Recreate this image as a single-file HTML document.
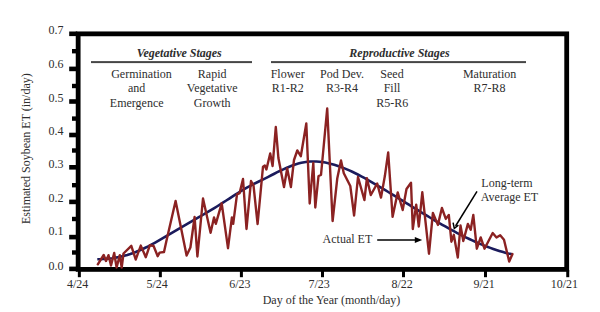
<!DOCTYPE html>
<html><head><meta charset="utf-8"><style>
html,body{margin:0;padding:0;background:#fff;width:600px;height:312px;overflow:hidden}
svg{display:block}
text{font-family:"Liberation Serif",serif;font-size:12px;fill:#2e2e2e}
</style></head><body>
<svg width="600" height="312" viewBox="0 0 600 312">
<rect x="78.15" y="33.85" width="488.55" height="235.55" fill="none" stroke="#000" stroke-width="4.8"/>
<rect x="69.2" y="31.5" width="8" height="4.6"/>
<text x="63.5" y="33.8" text-anchor="end">0.7</text>
<rect x="69.2" y="66.6" width="8" height="4.6"/>
<text x="63.5" y="67.8" text-anchor="end">0.6</text>
<rect x="69.2" y="99.2" width="8" height="4.6"/>
<text x="63.5" y="102.4" text-anchor="end">0.5</text>
<rect x="69.2" y="132.7" width="8" height="4.6"/>
<text x="63.5" y="135.3" text-anchor="end">0.4</text>
<rect x="69.2" y="165.0" width="8" height="4.6"/>
<text x="63.5" y="168.4" text-anchor="end">0.3</text>
<rect x="69.2" y="199.6" width="8" height="4.6"/>
<text x="63.5" y="201.8" text-anchor="end">0.2</text>
<rect x="69.2" y="234.8" width="8" height="4.6"/>
<text x="63.5" y="235.4" text-anchor="end">0.1</text>
<rect x="69.2" y="266.6" width="8" height="4.6"/>
<text x="63.5" y="269.6" text-anchor="end">0.0</text>
<rect x="72" y="49.0" width="5" height="4.4"/>
<rect x="72" y="83.8" width="5" height="4.4"/>
<rect x="72" y="116.4" width="5" height="4.4"/>
<rect x="72" y="148.3" width="5" height="4.4"/>
<rect x="72" y="183.0" width="5" height="4.4"/>
<rect x="72" y="216.8" width="5" height="4.4"/>
<rect x="72" y="250.3" width="5" height="4.4"/>
<rect x="77.85" y="270" width="3" height="7.2"/>
<text x="77.6" y="287.6" text-anchor="middle">4/24</text>
<rect x="158.85" y="270" width="3" height="7.2"/>
<text x="157.2" y="287.6" text-anchor="middle">5/24</text>
<rect x="239.90" y="270" width="3" height="7.2"/>
<text x="239.9" y="287.6" text-anchor="middle">6/23</text>
<rect x="321.00" y="270" width="3" height="7.2"/>
<text x="319.2" y="287.6" text-anchor="middle">7/23</text>
<rect x="402.00" y="270" width="3" height="7.2"/>
<text x="402.1" y="287.6" text-anchor="middle">8/22</text>
<rect x="484.00" y="270" width="3" height="7.2"/>
<text x="484.1" y="287.6" text-anchor="middle">9/21</text>
<rect x="566.25" y="270" width="3" height="7.2"/>
<text x="564.3" y="287.6" text-anchor="middle">10/21</text>
<text x="331.5" y="303.7" text-anchor="middle">Day of the Year (month/day)</text>
<text transform="translate(30,148.6) rotate(-90)" text-anchor="middle">Estimated Soybean ET (in/day)</text>
<text x="179.3" y="56.5" text-anchor="middle" font-weight="bold" font-style="italic">Vegetative Stages</text>
<rect x="91" y="61.1" width="161" height="2" fill="#464646"/>
<text x="399.5" y="56.5" text-anchor="middle" font-weight="bold" font-style="italic">Reproductive Stages</text>
<rect x="271" y="61.1" width="255" height="2" fill="#464646"/>
<text x="141.5" y="78" text-anchor="middle">Germination</text>
<text x="136.7" y="92.3" text-anchor="middle">and</text>
<text x="136.7" y="106.7" text-anchor="middle">Emergence</text>
<text x="212.2" y="78" text-anchor="middle">Rapid</text>
<text x="212.2" y="92.3" text-anchor="middle">Vegetative</text>
<text x="212.2" y="106.7" text-anchor="middle">Growth</text>
<text x="287.7" y="78" text-anchor="middle">Flower</text>
<text x="287.7" y="92.3" text-anchor="middle">R1-R2</text>
<text x="342" y="78" text-anchor="middle">Pod Dev.</text>
<text x="342" y="92.3" text-anchor="middle">R3-R4</text>
<text x="392" y="78" text-anchor="middle">Seed</text>
<text x="392" y="92.3" text-anchor="middle">Fill</text>
<text x="392.2" y="106.7" text-anchor="middle">R5-R6</text>
<text x="489.6" y="78" text-anchor="middle">Maturation</text>
<text x="489.6" y="92.3" text-anchor="middle">R7-R8</text>
<path d="M97.3,259.26 L100.3,259.20 L103.3,259.07 L106.3,258.86 L109.3,258.56 L112.3,258.17 L115.3,257.70 L118.3,257.13 L121.3,256.48 L124.3,255.73 L127.3,254.89 L130.3,253.96 L133.3,252.92 L136.3,251.79 L139.3,250.56 L142.3,249.22 L145.3,247.80 L148.3,246.30 L151.3,244.72 L154.3,243.09 L157.3,241.41 L160.3,239.68 L163.3,237.93 L166.3,236.16 L169.3,234.37 L172.3,232.59 L175.3,230.82 L178.3,229.06 L181.3,227.32 L184.3,225.60 L187.3,223.87 L190.3,222.16 L193.3,220.44 L196.3,218.72 L199.3,216.99 L202.3,215.25 L205.3,213.49 L208.3,211.72 L211.3,209.92 L214.3,208.10 L217.3,206.24 L220.3,204.35 L223.3,202.43 L226.3,200.49 L229.3,198.54 L232.3,196.60 L235.3,194.68 L238.3,192.78 L241.3,190.93 L244.3,189.14 L247.3,187.41 L250.3,185.77 L253.3,184.21 L256.3,182.72 L259.3,181.27 L262.3,179.81 L265.3,178.31 L268.3,176.79 L271.3,175.25 L274.3,173.72 L277.3,172.21 L280.3,170.73 L283.3,169.31 L286.3,167.96 L289.3,166.69 L292.3,165.53 L295.3,164.49 L298.3,163.58 L301.3,162.82 L304.3,162.23 L307.3,161.82 L310.3,161.57 L313.3,161.47 L316.3,161.53 L319.3,161.74 L322.3,162.09 L325.3,162.56 L328.3,163.17 L331.3,163.89 L334.3,164.73 L337.3,165.68 L340.3,166.73 L343.3,167.87 L346.3,169.10 L349.3,170.41 L352.3,171.79 L355.3,173.25 L358.3,174.76 L361.3,176.34 L364.3,177.96 L367.3,179.62 L370.3,181.32 L373.3,183.05 L376.3,184.81 L379.3,186.58 L382.3,188.37 L385.3,190.18 L388.3,191.99 L391.3,193.82 L394.3,195.66 L397.3,197.51 L400.3,199.36 L403.3,201.22 L406.3,203.08 L409.3,204.93 L412.3,206.79 L415.3,208.64 L418.3,210.48 L421.3,212.32 L424.3,214.14 L427.3,215.96 L430.3,217.76 L433.3,219.55 L436.3,221.31 L439.3,223.06 L442.3,224.79 L445.3,226.49 L448.3,228.17 L451.3,229.82 L454.3,231.44 L457.3,233.03 L460.3,234.58 L463.3,236.10 L466.3,237.59 L469.3,239.03 L472.3,240.44 L475.3,241.80 L478.3,243.11 L481.3,244.38 L484.3,245.61 L487.3,246.78 L490.3,247.90 L493.3,248.96 L496.3,249.97 L499.3,250.92 L502.3,251.81 L505.3,252.63 L508.3,253.40 L511.3,254.09 L512.0,254.25" fill="none" stroke="#1b1b5c" stroke-width="2.6" stroke-linecap="butt"/>
<polyline points="97.8,264.3 103.7,255 106,261 108.5,255.2 111,265.5 114.2,253 116.6,267.5 119.8,255.2 121.7,267.5 123.5,253.5 131.3,245.8 135.7,259.5 140.8,245.6 145.8,257.2 149.8,245.3 153.6,246 157.7,256.2 159.6,252.6 164,252 166.4,241 175.6,201 186.6,255.5 190.4,247.5 194.6,217 197.4,256.5 203,198.5 210.6,232.8 214,217.4 215.8,223.8 221.7,203.3 228,248.2 231.9,217.4 233.2,223.8 237,194.4 239.6,193.1 243,179 246.5,229 251,181 253.5,185.4 257.6,224 263,166.7 264.8,165.5 266.4,169.5 270.2,153.5 272.6,166 275.8,127 278.4,158 284,187 287.2,168.5 290.9,187 294,160 297.3,150.5 300.8,156.2 306.3,123.5 309.7,203.5 313.3,163 315.3,207.5 318.5,176 321,175 327.2,108.5 332.6,221 337.3,178.2 341,160.5 343.8,173.2 350.3,186 354.1,215.5 358,177 364.4,200 366.9,178.3 370.8,195 377.2,183.5 381,197.6 384.9,175.8 388.2,152.5 392.6,216.8 397.7,192.4 402.7,210 406.5,189 411,182.8 412.8,229 416.2,204.7 418.8,226.5 422.3,192.3 429,253.7 432.9,212.9 437.9,224.9 441.9,208 445.8,218.9 448.8,214.9 451.4,241.7 453.8,234.8 457.8,257.5 460.5,225.5 463.3,241 467.9,223.9 470.7,229.8 473.3,214.9 476.8,248.7 480.7,237.5 484.5,248.7 492.7,233 496.5,237.5 500.2,235.2 504,239.7 509.2,261.5 512.5,254" fill="none" stroke="#8b2222" stroke-width="2.4" stroke-linejoin="round" stroke-linecap="round"/>
<text x="507" y="186.8" text-anchor="middle">Long-term</text>
<text x="509.5" y="200.9" text-anchor="middle">Average ET</text>
<line x1="477" y1="191.4" x2="455.6" y2="226" stroke="#000" stroke-width="1.5"/>
<polyline points="453.1,222.6 454.3,228.4 458.4,225.2" fill="none" stroke="#000" stroke-width="1.5"/>
<text x="347.4" y="242.8" text-anchor="middle">Actual ET</text>
<line x1="377.2" y1="240" x2="416" y2="240" stroke="#000" stroke-width="1.6"/>
<polygon points="414.8,237.1 422.2,240 414.8,242.9" fill="#000"/>
</svg>
</body></html>
